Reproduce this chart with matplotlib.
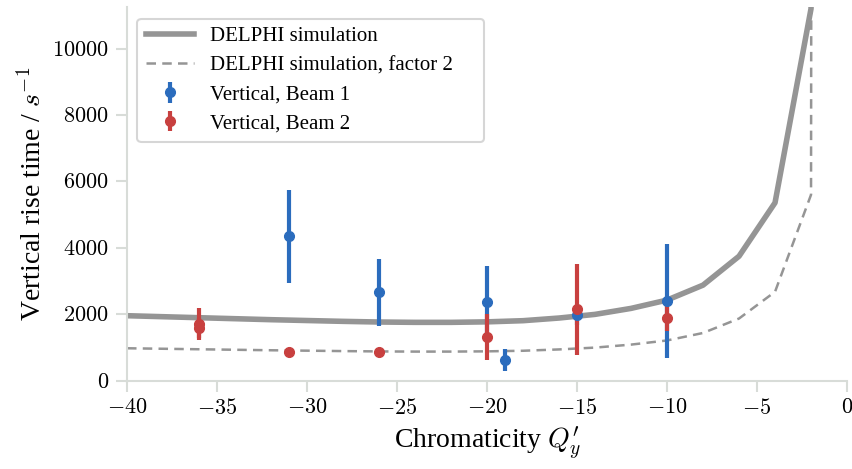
import matplotlib
matplotlib.use("Agg")
import matplotlib.pyplot as plt
from matplotlib.ticker import FuncFormatter

# DELPHI simulation (rise time vs chromaticity)
sim_q = [-40, -38, -36, -34, -32, -30, -28, -26, -24, -22, -20, -18, -16, -14, -12, -10, -8, -6, -4, -2, -1.95]
sim_rt = [1960, 1930, 1900, 1870, 1840, 1815, 1790, 1770, 1760, 1760, 1775, 1810, 1890, 2000, 2180, 2430, 2880, 3750, 5360, 11200, 60000]

# measurements, beam 1
b1_q = [-31, -26, -20, -19, -15, -10]
b1_rt = [4350, 2660, 2380, 630, 1980, 2400]
b1_err = [1400, 1000, 1070, 335, 300, 1715]

# measurements, beam 2
b2_q = [-36, -36, -31, -26, -20, -15, -10]
b2_rt = [1710, 1580, 880, 860, 1320, 2160, 1900]
b2_err = [470, 300, 60, 80, 690, 1370, 410]

grey = "#959595"
blue = "#2b6cbd"
red = "#c8403f"
spine_col = "#d8dcd8"

plt.rcParams["font.family"] = ["Liberation Serif", "DejaVu Serif"]
plt.rcParams["mathtext.fontset"] = "cm"

fig = plt.figure(figsize=(8.53, 4.69), dpi=100)
ax = fig.add_axes([0.1489, 0.188, 0.8441, 0.797])

ax.plot(sim_q, sim_rt, color=grey, lw=4, label="DELPHI simulation")
ax.plot(sim_q, [v / 2 for v in sim_rt], color=grey, lw=1.8, ls=(0, (3.8, 2.5)),
        label="DELPHI simulation, factor 2")
ax.errorbar(b1_q, b1_rt, yerr=b1_err, fmt="o", color=blue, ms=7, elinewidth=3,
            capsize=0, label="Vertical, Beam 1", zorder=3)
ax.errorbar(b2_q, b2_rt, yerr=b2_err, fmt="o", color=red, ms=7, elinewidth=3,
            capsize=0, label="Vertical, Beam 2", zorder=3)

ax.set_xlim(-40, 0)
ax.set_ylim(0, 11250)
ax.set_xticks(range(-40, 1, 5))
ax.set_yticks(range(0, 10001, 2000))
ax.xaxis.set_major_formatter(FuncFormatter(lambda v, p: "$%d$" % v))
ax.yaxis.set_major_formatter(FuncFormatter(lambda v, p: "$%d$" % v))
ax.tick_params(labelsize=16, color=spine_col, width=1.5, length=8, pad=5)

for s in ["top", "right"]:
    ax.spines[s].set_visible(False)
for s in ["left", "bottom"]:
    ax.spines[s].set_color(spine_col)
    ax.spines[s].set_linewidth(1.5)

ax.set_xlabel("Chromaticity $Q_y'$", fontsize=20, labelpad=4)
ax.set_ylabel("Vertical rise time / $s^{-1}$", fontsize=20)

# legend frame is wider than its text in the original
leg = ax.legend(loc="upper left", fontsize=15, frameon=True, fancybox=True,
                borderpad=0.4, labelspacing=0.45, handlelength=2.3,
                handletextpad=0.8, mode="expand",
                bbox_to_anchor=(0.0, 0.0, 0.51, 0.997))
leg.get_frame().set_edgecolor("#cccccc")
leg.get_frame().set_linewidth(1.5)

fig.savefig("out.png", dpi=100)
